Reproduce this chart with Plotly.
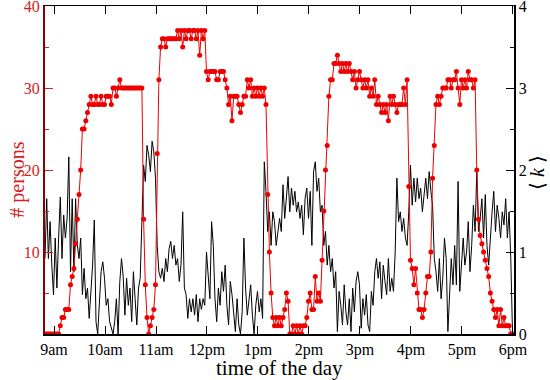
import numpy as np
import plotly.graph_objects as go

# sampling of both series (hours of the day, one sample every 2 minutes)
start_hour = 8.8235
step_minutes = 2

# number of persons present (left axis, red)
persons = [
    0, 0, 0, 0, 0, 0, 0, 0, 0, 1,
    2, 2, 3, 3, 3, 6, 7, 8, 11, 14,
    17, 20, 25, 25, 26, 27, 28, 29, 28, 28,
    29, 28, 28, 29, 28, 28, 29, 29, 29, 28,
    30, 30, 29, 30, 31, 30, 30, 30, 30, 30,
    30, 30, 30, 30, 30, 30, 30, 30, 14, 6,
    2, 0, 1, 2, 3, 6, 22, 31, 35, 36,
    36, 35, 36, 36, 36, 36, 36, 36, 37, 36,
    37, 35, 37, 36, 37, 37, 36, 37, 37, 36,
    37, 34, 37, 36, 37, 32, 31, 32, 32, 32,
    32, 31, 31, 32, 32, 32, 31, 30, 28, 29,
    26, 29, 29, 29, 28, 27, 28, 29, 29, 31,
    30, 31, 29, 30, 29, 30, 29, 30, 29, 30,
    28, 17, 10, 5, 2, 1, 2, 1, 2, 1,
    2, 3, 5, 4, 0, 0, 1, 0, 1, 0,
    1, 0, 1, 1, 2, 4, 5, 3, 3, 7,
    4, 5, 4, 9, 15, 20, 23, 29, 31, 31,
    33, 33, 34, 33, 32, 33, 32, 33, 32, 33,
    32, 31, 32, 30, 31, 32, 31, 30, 31, 30,
    31, 29, 30, 29, 31, 28, 29, 28, 27, 28,
    27, 28, 26, 29, 28, 29, 28, 27, 28, 28,
    28, 30, 28, 31, 18, 9, 8, 6, 8, 5,
    3, 3, 2, 3, 5, 7, 7, 10, 19, 23,
    28, 29, 28, 29, 30, 30, 30, 31, 31, 30,
    31, 31, 32, 30, 28, 31, 30, 31, 30, 32,
    31, 31, 30, 31, 20, 14, 12, 11, 10, 9,
    8, 7, 5, 4, 3, 2, 3, 1, 3, 1,
    2, 1, 1, 1, 0, 0,
]

# average degree <k> (right axis, black)
mean_degree = [
    0.92, 1.65, 0.92, 1.37, 0.84, 0.48, 1.17, 0.56, 1.17, 1.67,
    0.92, 1.45, 1.17, 1.41, 2.16, 0.76, 1.65, 0.76, 1.65, 1.09,
    0.92, 1.17, 0.48, 0.80, 0.43, 0.56, 0.19, 0.52, 0.84, 1.39,
    0.15, 0.00, 0.43, 0.76, 0.88, 0.68, 0.35, 0.43, 0.15, 0.07,
    0.00, 0.15, 0.43, 0.00, 0.64, 0.92, 0.70, 0.23, 0.68, 0.35,
    0.56, 0.15, 0.76, 0.43, 0.11, 0.56, 0.68, 1.37, 2.06, 1.86,
    2.30, 2.18, 1.98, 2.35, 2.22, 1.90, 1.08, 0.76, 0.68, 0.80,
    0.64, 0.92, 0.76, 1.04, 1.13, 0.92, 1.08, 0.84, 0.92, 0.64,
    0.84, 1.49, 0.56, 0.48, 0.19, 0.43, 0.27, 0.43, 0.23, 0.48,
    0.15, 0.43, 0.30, 0.43, 0.35, 1.00, 0.76, 0.43, 1.37, 1.08,
    0.43, 0.15, 0.56, 0.35, 0.76, 0.52, 0.84, 0.35, 0.11, 0.64,
    0.48, 0.27, 0.03, 0.43, 0.11, 0.00, 0.27, 1.17, 0.56, 0.23,
    0.43, 0.60, 0.23, 0.00, 0.35, 0.52, 0.27, 0.43, 0.19, 2.10,
    1.74, 1.25, 1.49, 1.08, 1.49, 1.37, 1.08, 1.25, 1.41, 1.25,
    1.82, 1.41, 1.65, 1.92, 1.49, 1.78, 1.57, 1.74, 1.49, 1.61,
    1.41, 1.57, 1.21, 1.65, 1.78, 1.41, 1.74, 1.08, 1.98, 2.10,
    1.74, 1.90, 1.49, 1.57, 1.08, 1.25, 0.84, 1.08, 0.76, 0.92,
    0.56, 0.76, 0.03, 0.52, 0.35, 0.11, 0.60, 0.27, 0.11, 0.43,
    0.03, 0.56, 0.27, 0.64, 0.76, 0.60, 0.07, 0.43, 0.23, 0.48,
    0.11, 0.03, 0.52, 0.35, 0.76, 0.92, 0.68, 0.88, 0.43, 0.84,
    0.64, 0.48, 0.92, 0.52, 0.68, 0.52, 1.00, 1.90, 1.37, 1.49,
    1.25, 1.41, 1.17, 1.08, 1.49, 2.06, 1.57, 1.90, 1.61, 1.90,
    1.65, 1.78, 1.49, 1.74, 1.90, 1.65, 1.98, 1.74, 1.57, 0.92,
    0.76, 0.52, 0.92, 0.43, 0.68, 1.17, 0.92, 0.03, 0.60, 0.92,
    0.60, 1.08, 0.60, 1.86, 0.52, 0.92, 1.17, 0.84, 1.00, 1.37,
    0.76, 1.08, 1.57, 1.25, 1.98, 1.25, 1.41, 1.65, 1.17, 1.70,
    1.08, 0.84, 1.21, 1.49, 1.74, 1.25, 1.57, 1.41, 1.17, 1.49,
    1.33, 1.65, 1.17, 1.49, 0.92, 0.03,
]

hour_ticks = [9, 10, 11, 12, 13, 14, 15, 16, 17, 18]
hour_labels = ["9am", "10am", "11am", "12pm", "1pm", "2pm", "3pm", "4pm", "5pm", "6pm"]
persons_ticks = [10, 20, 30, 40]
persons_minor = [5, 15, 25, 35]
degree_ticks = [0, 1, 2, 3, 4]
degree_minor = [0.5, 1.5, 2.5, 3.5]

n = len(persons)
times = start_hour + np.arange(n) * step_minutes / 60.0

RED = "#ee0000"
LABEL_RED = "#d42020"
FONT = "Liberation Serif"

fig = go.Figure()
fig.add_trace(go.Scatter(
    x=times, y=mean_degree[:n], mode="lines",
    line=dict(color="black", width=1), yaxis="y", hoverinfo="skip",
))
fig.add_trace(go.Scatter(
    x=times, y=persons, mode="lines+markers",
    line=dict(color=RED, width=1), marker=dict(color=RED, size=5),
    yaxis="y2", hoverinfo="skip",
))

fig.update_layout(
    width=550, height=380,
    margin=dict(l=45, r=36, t=6, b=46, autoexpand=False),
    paper_bgcolor="white", plot_bgcolor="white",
    showlegend=False,
    font=dict(family=FONT, size=16, color="black"),
    xaxis=dict(
        range=[8.8235, 18.02], automargin=False,
        tickmode="array", tickvals=hour_ticks, ticktext=hour_labels,
        ticks="inside", ticklen=8, tickwidth=1, tickcolor="black",
        showline=True, linecolor="black", linewidth=1.5, mirror="ticks",
        showgrid=False, zeroline=False, ticklabeloverflow="allow",
        tickfont=dict(family=FONT, size=16),
    ),
    yaxis=dict(
        side="right", range=[0, 4], automargin=False,
        tickmode="array", tickvals=degree_ticks,
        ticks="inside", ticklen=8, tickwidth=1, tickcolor="black",
        minor=dict(tickmode="array", tickvals=degree_minor, ticklen=4, ticks="inside", tickcolor="black"),
        showline=True, linecolor="black", linewidth=1.5,
        showgrid=False, zeroline=False, ticklabeloverflow="allow",
        tickfont=dict(family=FONT, size=16),
    ),
    yaxis2=dict(
        overlaying="y", side="left", range=[0, 40], automargin=False,
        tickmode="array", tickvals=persons_ticks,
        ticks="inside", ticklen=8, tickwidth=1, tickcolor=LABEL_RED,
        minor=dict(tickmode="array", tickvals=persons_minor, ticklen=4, ticks="inside", tickcolor=LABEL_RED),
        showline=True, linecolor="#8b0000", linewidth=2,
        showgrid=False, zeroline=False, ticklabeloverflow="allow",
        tickfont=dict(family=FONT, size=16, color=LABEL_RED),
    ),
    annotations=[
        dict(text="time of the day", xref="paper", yref="paper", x=0.501, y=-0.104,
             xanchor="center", yanchor="middle", showarrow=False,
             font=dict(family=FONT, size=21, color="black")),
        dict(text="# persons", xref="paper", yref="paper", x=-0.058, y=0.47,
             xanchor="center", yanchor="middle", showarrow=False, textangle=-90,
             font=dict(family=FONT, size=20, color=LABEL_RED)),
        dict(text="⟨ <i>k</i> ⟩", xref="paper", yref="paper", x=1.049, y=0.494,
             xanchor="center", yanchor="middle", showarrow=False, textangle=-90,
             font=dict(family=FONT, size=20, color="black")),
    ],
)

fig.write_html(
    "out.html",
    config={"displayModeBar": False, "staticPlot": True},
    post_script="document.body.style.margin='0';document.body.style.padding='0';",
)
